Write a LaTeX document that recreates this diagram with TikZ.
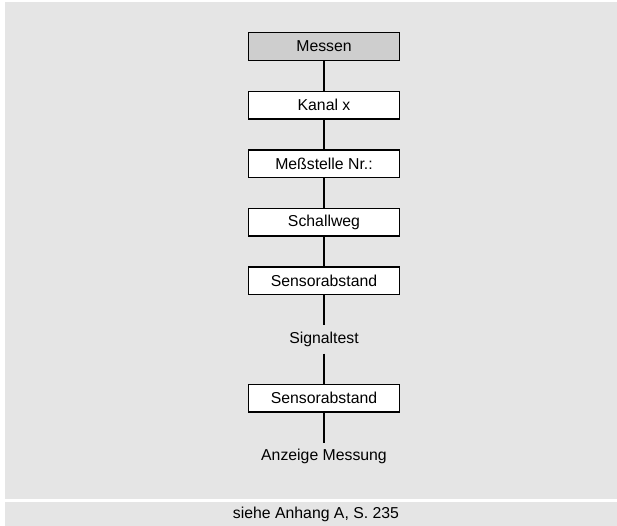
\documentclass[tikz,border=0pt]{standalone}
\usepackage{fontspec}
\setmainfont{Liberation Sans}
\usetikzlibrary{positioning}
\definecolor{panelgray}{RGB}{229,229,229}
\definecolor{headgray}{RGB}{206,206,206}

\begin{document}
\begin{tikzpicture}[x=1pt,y=-1pt,
    box/.style={draw,line width=1.4pt,fill=white,minimum width=150.5pt,minimum height=27.6pt,
      inner sep=0pt,font=\fontsize{15.8}{18}\selectfont},
    lbl/.style={minimum height=28pt,inner sep=0pt,font=\fontsize{15.8}{18}\selectfont},
    conn/.style={line width=1.3pt}]
\useasboundingbox (0,0) rectangle (617,526);
% panels
\fill[panelgray] (5,2) rectangle (617,499);
\fill[panelgray] (5,502) rectangle (617,526);
% steps
\node[box,fill=headgray] (messen) at (324,46.5) {Messen};
\foreach \n/\y/\t in {kanal/105.1/Kanal x,
    mst/163.7/Meßstelle Nr.:,
    schall/222.3/Schallweg,
    abst/280.9/Sensorabstand,
    abstb/398.1/Sensorabstand} {
  \node[box] (\n) at (324,\y) {\t};
}
\node[lbl] (signal) at (324,339.5) {Signaltest};
\node[lbl] (anzeige) at (324,456.7) {Anzeige Messung};
\foreach \a/\b in {messen/kanal,kanal/mst,mst/schall,schall/abst,
    abst/signal,signal/abstb,abstb/anzeige}
  \draw[conn] (\a) -- (\b);
\node[lbl] (ref) at (316,514) {siehe Anhang A, S. 235};
\end{tikzpicture}
\end{document}
